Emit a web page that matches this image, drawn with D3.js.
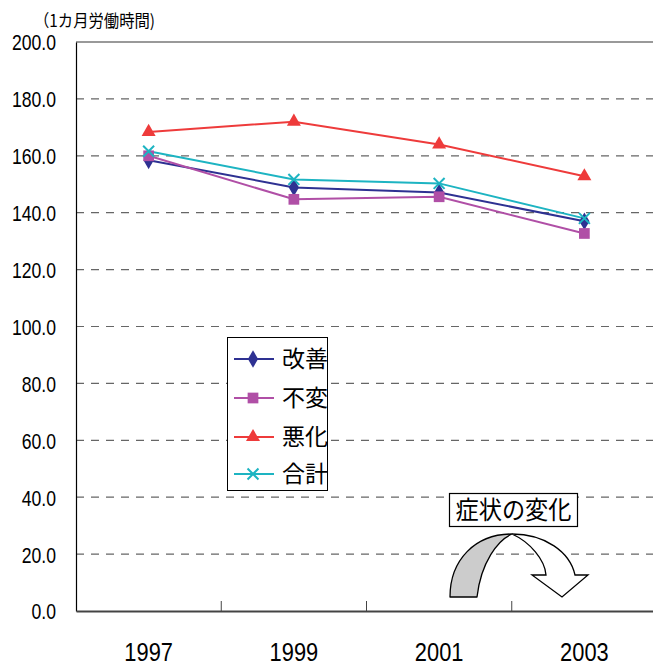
<!DOCTYPE html>
<html><head><meta charset="utf-8">
<script src="https://cdn.jsdelivr.net/npm/d3@7"></script>
<style>
html,body{margin:0;padding:0;background:#fff;}
svg{display:block;}
</style></head>
<body>
<script>
const years = ["1997","1999","2001","2003"];
const seriesNames = ["改善","不変","悪化","合計"];
const kaizen = [158.4, 148.9, 147.1, 137.0];
const fuhen  = [160.0, 144.7, 145.6, 132.7];
const akka   = [168.4, 172.0, 164.0, 152.8];
const goukei = [161.6, 151.7, 150.3, 138.0];
const yTicks = [0,20,40,60,80,100,120,140,160,180,200];
const yTitle = "（1カ月労働時間)";
const noteLabel = "症状の変化";

const colors = ["#2E3192","#B04FA6","#EE3B3B","#1DB4C2"];
const symbols = [d3.symbolDiamond, d3.symbolSquare, d3.symbolTriangle, d3.symbolTimes || d3.symbolX];
const symSizes = [90, 115, 85, 80];
const allValues = [kaizen, fuhen, akka, goukei];

const W = 653, H = 666;
const svg = d3.select("body").append("svg").attr("width", W).attr("height", H);

const x = d3.scaleBand().domain(years).range([76, 657]);
const y = d3.scaleLinear().domain([0, 200]).range([611, 42]);

const numFont = "'Liberation Sans','Arial',sans-serif";
const cjkFont = "'Noto Sans CJK JP','Noto Sans CJK SC',sans-serif";

// condense text horizontally, keeping its anchor point where it belongs
function condense(sel, factor, anchor) {
  sel.each(function() {
    const t = d3.select(this);
    const w = this.getComputedTextLength();
    const nw = w * factor;
    const x0 = +t.attr("x") || 0;
    let start = x0;
    if (anchor === "middle") start = x0 - nw / 2;
    else if (anchor === "end") start = x0 - nw;
    t.attr("text-anchor", "start").attr("x", start)
      .attr("textLength", nw).attr("lengthAdjust", "spacingAndGlyphs");
  });
}

// gridlines
svg.append("g").selectAll("line").data(yTicks.filter(d => d > 0 && d < 200)).join("line")
  .attr("x1", 76).attr("x2", W).attr("y1", d => y(d)).attr("y2", d => y(d))
  .attr("stroke", "#666").attr("stroke-width", 1.2).attr("stroke-dasharray", "8,7");
// top line
svg.append("line").attr("x1", 76).attr("x2", W).attr("y1", y(200)).attr("y2", y(200))
  .attr("stroke", "#999").attr("stroke-width", 2);

// y axis
const yAxis = svg.append("g").attr("transform", "translate(76,0)")
  .call(d3.axisLeft(y).tickValues(yTicks).tickSize(0).tickPadding(20).tickFormat(d3.format(".1f")));
yAxis.select(".domain").attr("stroke", "#000").attr("stroke-width", 1.2);
yAxis.selectAll("text").attr("font-family", numFont).attr("font-size", 22)
  .attr("fill", "#000").attr("dy", "0.36em").attr("text-anchor", null);
yAxis.selectAll("text").attr("x", -20).call(condense, 0.8, "end");

// x axis
const xAxis = svg.append("g").attr("transform", "translate(0,611)")
  .call(d3.axisBottom(x).tickSize(0).tickPadding(0));
xAxis.select(".domain").attr("stroke", "#444").attr("stroke-width", 2.2);
xAxis.selectAll("text").attr("font-family", numFont).attr("font-size", 26)
  .attr("fill", "#000").attr("y", 50).attr("dy", 0).attr("x", 0).call(condense, 0.84, "middle");
// boundary tick marks
svg.append("g").selectAll("line").data(years.slice(1)).join("line")
  .attr("x1", d => x(d)).attr("x2", d => x(d)).attr("y1", 601).attr("y2", 611)
  .attr("stroke", "#444").attr("stroke-width", 1);

// y title
svg.append("text").attr("x", 34).attr("y", 27).attr("font-family", cjkFont)
  .attr("font-size", 17).attr("fill", "#000").text(yTitle)
  .attr("textLength", 121).attr("lengthAdjust", "spacingAndGlyphs");

// lines and markers
const line = d3.line().x((d, i) => x(years[i]) + x.bandwidth() / 2).y(d => y(d));
allValues.forEach((vals, si) => {
  svg.append("path").datum(vals).attr("d", line).attr("fill", "none")
    .attr("stroke", colors[si]).attr("stroke-width", 2);
});
allValues.forEach((vals, si) => {
  const isStroke = si === 3;
  svg.append("g").selectAll("path").data(vals).join("path")
    .attr("transform", (d, i) => `translate(${x(years[i]) + x.bandwidth() / 2},${y(d)})`)
    .attr("d", d3.symbol().type(symbols[si]).size(symSizes[si]))
    .attr("fill", isStroke ? "none" : colors[si])
    .attr("stroke", colors[si]).attr("stroke-width", isStroke ? 2 : 0);
});

// legend
const lg = svg.append("g");
lg.append("rect").attr("x", 227.5).attr("y", 337.5).attr("width", 100).attr("height", 153)
  .attr("fill", "#fff").attr("stroke", "#000").attr("stroke-width", 1);
const legendY = [359, 398, 437, 474];
seriesNames.forEach((name, si) => {
  const g = lg.append("g").attr("transform", `translate(0,${legendY[si]})`);
  g.append("line").attr("x1", 234).attr("x2", 274).attr("y1", 0).attr("y2", 0)
    .attr("stroke", colors[si]).attr("stroke-width", 2);
  g.append("path").attr("transform", "translate(253,0)")
    .attr("d", d3.symbol().type(symbols[si]).size(symSizes[si]))
    .attr("fill", si === 3 ? "none" : colors[si]).attr("stroke", colors[si])
    .attr("stroke-width", si === 3 ? 2 : 0);
  g.append("text").attr("x", 282).attr("y", 0).attr("dy", "0.36em")
    .attr("font-family", cjkFont).attr("font-size", 23).attr("fill", "#000").text(name);
});

// annotation box and arrow
const ann = svg.append("g");
ann.append("rect").attr("x", 449.5).attr("y", 493.5).attr("width", 128).attr("height", 33)
  .attr("fill", "#fff").attr("stroke", "#000").attr("stroke-width", 1.2);
ann.append("text").attr("x", 455.5).attr("y", 510).attr("dy", "0.36em")
  .attr("font-family", cjkFont).attr("font-size", 25).attr("fill", "#000").text(noteLabel)
  .attr("textLength", 116).attr("lengthAdjust", "spacingAndGlyphs");
ann.append("path")
  .attr("d", "M450,597 C450,560 475,534 512,534 C498,540 481,562 477,597 Z")
  .attr("fill", "#cccccc").attr("stroke", "#000").attr("stroke-width", 1.3).attr("stroke-linejoin", "round");
ann.append("path")
  .attr("d", "M512,534 C545,534 570,552 575,575 L588,575 L562,597 L532,575 L546,575 C545,560 530,542 512,534 Z")
  .attr("fill", "#fff").attr("stroke", "#000").attr("stroke-width", 1.3).attr("stroke-linejoin", "miter");
</script>
</body></html>
